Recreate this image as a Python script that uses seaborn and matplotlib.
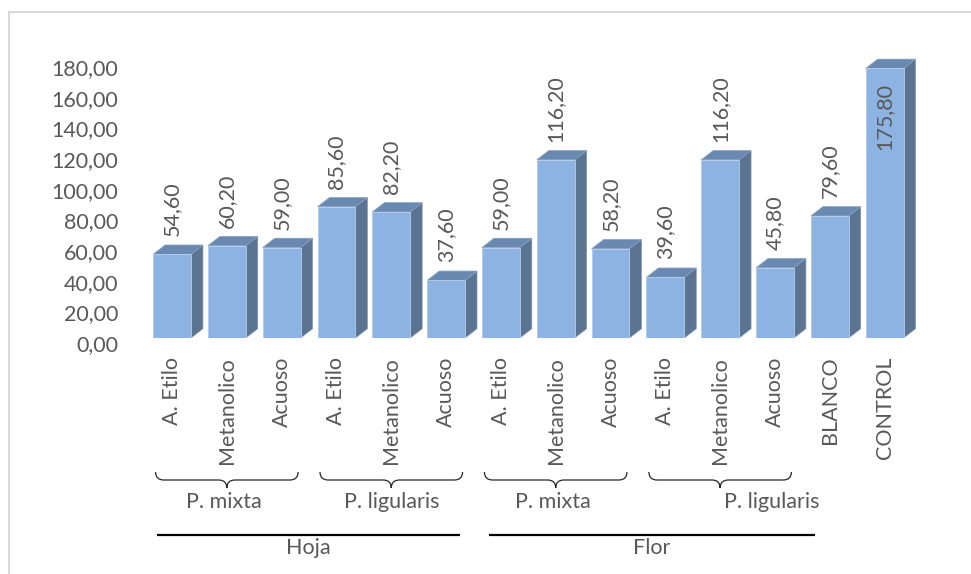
import matplotlib
matplotlib.use('Agg')
import matplotlib.pyplot as plt
import matplotlib.transforms as mtransforms
from matplotlib.patches import Polygon, Rectangle, PathPatch
from matplotlib.path import Path
import pandas as pd
import seaborn as sns

# Datos del grafico
tratamientos = ['A. Etilo', 'Metanolico', 'Acuoso', 'A. Etilo', 'Metanolico', 'Acuoso',
                'A. Etilo', 'Metanolico', 'Acuoso', 'A. Etilo', 'Metanolico', 'Acuoso',
                'BLANCO', 'CONTROL']
valores = [54.60, 60.20, 59.00, 85.60, 82.20, 37.60, 59.00, 116.20, 58.20,
           39.60, 116.20, 45.80, 79.60, 175.80]
especies = ['P. mixta', 'P. ligularis', 'P. mixta', 'P. ligularis']
especie_barras = [(0, 2), (3, 5), (6, 8), (9, 11)]
organos = ['Hoja', 'Flor']
organo_barras = [(0, 5), (6, 11)]
y_ticks = [0, 20, 40, 60, 80, 100, 120, 140, 160, 180]

# Estilo
FRONT = '#8DB3E2'
SIDE = '#5B7492'
TOP = '#6A89B0'
GRIS = '#595959'
FS = 15.5
W, H = 971, 574

sns.set_style('white')
plt.rcParams['font.family'] = ['Lato', 'DejaVu Sans']

fig = plt.figure(figsize=(W / 100, H / 100), dpi=100)
ax = fig.add_axes([144.6 / W, (H - 338) / H, (912 - 144.6) / W, 276 / H])

df = pd.DataFrame({'pos': range(len(valores)), 'valor': valores})
sns.barplot(data=df, x='pos', y='valor', color=FRONT, saturation=1, width=0.69,
            edgecolor='#B4CCEA', linewidth=0.6, ax=ax, zorder=3)

ax.set_xlim(-0.5, len(valores) - 0.5)
ax.set_ylim(0, 180)
for s in ax.spines.values():
    s.set_visible(False)
ax.set_xlabel('')
ax.set_ylabel('')

# Ejes
ax.set_yticks(y_ticks)
ax.set_yticklabels([f'{v:.2f}'.replace('.', ',') for v in y_ticks], fontsize=FS, color=GRIS)
ax.tick_params(axis='y', length=0, pad=19)
off = mtransforms.ScaledTranslation(0, -5 / 100, fig.dpi_scale_trans)
for lbl in ax.get_yticklabels():
    lbl.set_transform(lbl.get_transform() + off)
ax.set_xticks(range(len(tratamientos)))
ax.set_xticklabels(tratamientos, rotation=90, fontsize=FS, color=GRIS, va='top')
ax.tick_params(axis='x', length=0, pad=13.5)

# Efecto 3D: caras lateral y superior
inv = ax.transData.inverted()
p0 = ax.transData.transform((0, 0))
dx, dy = inv.transform((p0[0] + 12, p0[1] + 9.3))
for bar in ax.patches:
    x, w, h = bar.get_x(), bar.get_width(), bar.get_height()
    side = Polygon([(x + w, 0), (x + w + dx, dy), (x + w + dx, h + dy), (x + w, h)],
                   closed=True, facecolor=SIDE, edgecolor='#7F95B0', lw=0.5, zorder=2,
                   clip_on=False)
    top = Polygon([(x, h), (x + dx, h + dy), (x + w + dx, h + dy), (x + w, h)],
                  closed=True, facecolor=TOP, edgecolor='#8AA3C3', lw=0.5, zorder=2,
                  clip_on=False)
    ax.add_patch(side)
    ax.add_patch(top)

# Etiquetas de valores
for i, v in enumerate(valores):
    txt = f'{v:.2f}'.replace('.', ',')
    if v > 150:
        ax.annotate(txt, (i, v), xytext=(0, -15 * 0.72), textcoords='offset points',
                    rotation=90, ha='center', va='top', fontsize=FS, color=GRIS, zorder=5)
    else:
        ax.annotate(txt, (i, v), xytext=(0, 18 * 0.72), textcoords='offset points',
                    rotation=90, ha='center', va='bottom', fontsize=FS, color=GRIS, zorder=5)

# Llaves y grupos bajo el eje
tr = mtransforms.blended_transform_factory(ax.transData, fig.transFigure)


def fy(px):
    return 1 - px / H


def llave(x0, x1, xm, y_top=472, y_mid=480, y_tip=488, r=0.15):
    yt, ym, yp = fy(y_top), fy(y_mid), fy(y_tip)
    verts = [(x0, yt), (x0, ym), (x0 + r, ym), (xm - r, ym), (xm, ym), (xm, yp),
             (xm, ym), (xm + r, ym), (x1 - r, ym), (x1, ym), (x1, yt)]
    codes = [Path.MOVETO, Path.CURVE3, Path.CURVE3, Path.LINETO, Path.CURVE3, Path.CURVE3,
             Path.CURVE3, Path.CURVE3, Path.LINETO, Path.CURVE3, Path.CURVE3]
    ax.add_patch(PathPatch(Path(verts, codes), transform=tr, fill=False,
                           edgecolor='#262626', lw=0.9, clip_on=False))


desplaz = [-0.05, 0.0, -0.05, 0.95]
for (a, b), nombre, d in zip(especie_barras, especies, desplaz):
    x0, x1 = a - 0.3, b + 0.3
    llave(x0, x1, (x0 + x1) / 2)
    ax.text((a + b) / 2 + d, fy(502), nombre, transform=tr, ha='center', va='center',
            fontsize=FS, color=GRIS)

extension = [(-0.27, 0.26), (-0.22, 0.73)]
for (a, b), nombre, (ea, eb) in zip(organo_barras, organos, extension):
    x0, x1 = a + ea, b + eb
    ax.plot([x0, x1], [fy(535), fy(535)], transform=tr, color='black', lw=1.6,
            clip_on=False, solid_capstyle='butt')
    ax.text((x0 + x1) / 2, fy(548), nombre, transform=tr, ha='center', va='center',
            fontsize=FS, color=GRIS)

# Marco del grafico
fig.patches.append(Rectangle((9 / W, -0.1), 2, fy(12) + 0.1, transform=fig.transFigure,
                             fill=False, edgecolor='#D9D9D9', lw=1.5))

fig.savefig('out.png', dpi=100)
